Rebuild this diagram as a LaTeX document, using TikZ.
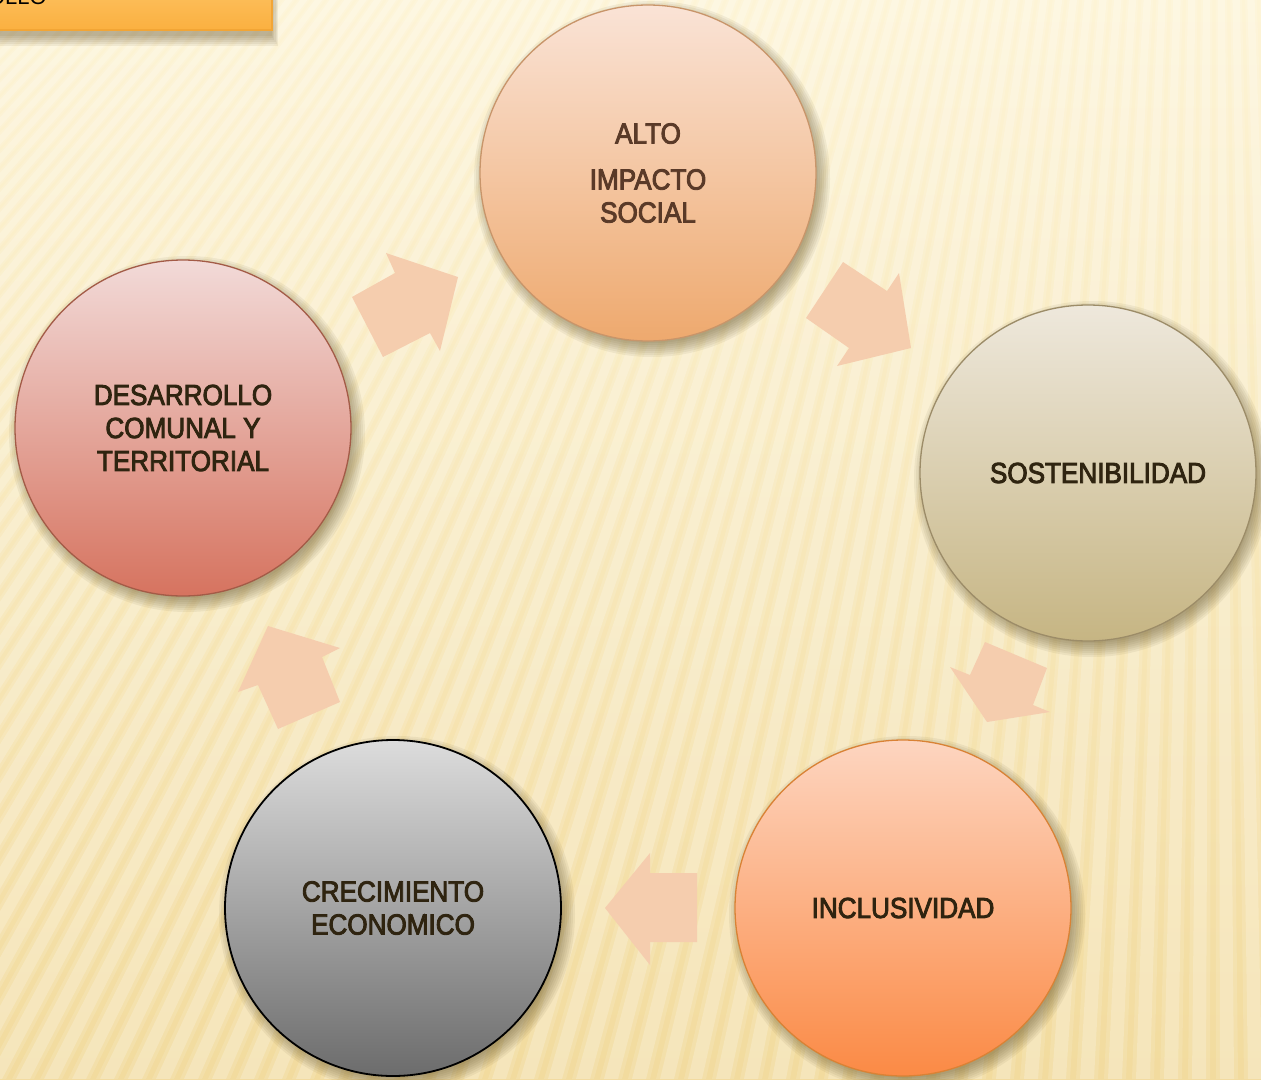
\documentclass[tikz,border=0pt]{standalone}
\usepackage{fontspec}
\newfontfamily\cf[FakeStretch=0.9,FakeBold=3]{Liberation Sans}
\newfontfamily\plainsans{Liberation Sans}
\definecolor{bgtop}{HTML}{FDF4D6}
\definecolor{bgmid}{HTML}{F9EBBA}
\definecolor{bgbot}{HTML}{F2DB9E}
\definecolor{arrowc}{HTML}{F5CDAE}
\definecolor{txtc}{HTML}{2F2410}
\definecolor{altoc}{HTML}{5A3A28}
\definecolor{boxtop}{HTML}{FDCB72}
\definecolor{boxbot}{HTML}{FBB040}
\definecolor{boxedge}{HTML}{F2A535}
\definecolor{shadowc}{HTML}{5A4A20}
\definecolor{c1top}{HTML}{FAE3D6}\definecolor{c1bot}{HTML}{EEA96E}\definecolor{c1edge}{HTML}{C8956A}
\definecolor{c2top}{HTML}{EEE8DC}\definecolor{c2bot}{HTML}{C6B583}\definecolor{c2edge}{HTML}{9C8C68}
\definecolor{c3top}{HTML}{FDD5C0}\definecolor{c3bot}{HTML}{FB8A45}\definecolor{c3edge}{HTML}{D98235}
\definecolor{c4top}{HTML}{DCDCDC}\definecolor{c4bot}{HTML}{6C6C6C}\definecolor{c4edge}{HTML}{000000}
\definecolor{c5top}{HTML}{F2DAD8}\definecolor{c5bot}{HTML}{D6735F}\definecolor{c5edge}{HTML}{A35B47}
\tikzset{
  bubble/.style n args={3}{circle, minimum size=336pt, inner sep=0pt,
    top color=#1, bottom color=#2, draw=#3, line width=1.3pt,
    align=center, text=txtc,
    font=\cf\fontsize{29}{33}\selectfont},
  flowarrow/.style={fill=arrowc},
  softshadow/.style={fill=shadowc, opacity=0.07}
}
\newcommand\circshadow[2]{%
  \foreach \rr in {164,166,...,178} {\fill[softshadow] (#1+4,#2+6) circle[radius=\rr];}}
\begin{document}
\begin{tikzpicture}[x=1pt,y=-1pt]
\useasboundingbox (0,0) rectangle (1261,1079);
% background
\shade[top color=bgtop, middle color=bgmid, bottom color=bgbot] (0,0) rectangle (1261,1079);
\begin{scope}
  \clip (0,0) rectangle (1261,1079);
  \foreach \x in {-1300,-1272,...,1400} {
    \fill[white, opacity=0.2] (1215,-1210) -- (\x,1079) -- ({\x+14},1079) -- cycle;
    \fill[white, opacity=0.12] (1215,-1210) -- ({\x-4},1079) -- ({\x+18},1079) -- cycle;
  }
\end{scope}
% top-left box
\foreach \d in {0,2,...,10} {\fill[softshadow, opacity=0.08] ({-10},{-40}) rectangle ({272+\d*0.6},{36+\d});}
\shade[top color=boxtop, bottom color=boxbot, draw=boxedge, line width=1.5pt]
  (-10,-40) rectangle (272,30);
\node[anchor=base east, inner sep=0pt, font=\plainsans\fontsize{22}{24}\selectfont, text=black] (boxtext) at (47,4) {DESARROLLO};
% arrows
\fill[flowarrow] (352,297) -- (395,273) -- (386,253) -- (458,277) -- (440,351) -- (430,333) -- (383,357) -- cycle;
\fill[flowarrow] (843,262) -- (887,291) -- (899,273) -- (911,348) -- (837,366) -- (849,348) -- (806,318) -- cycle;
\fill[flowarrow] (985,642) -- (1047,668) -- (1033,705) -- (1050,712) -- (987,722) -- (950,667) -- (970,675) -- cycle;
\fill[flowarrow] (605,908) -- (650,853) -- (650,873) -- (697,873) -- (697,942) -- (650,942) -- (650,965) -- cycle;
\fill[flowarrow] (268,626) -- (340,648) -- (322,657) -- (340,702) -- (278,729) -- (258,685) -- (238,692) -- cycle;
% shadows
\circshadow{648}{173}
\circshadow{1088}{473}
\circshadow{903}{908}
\circshadow{393}{908}
\circshadow{183}{428}
% circles
\node[bubble={c1top}{c1bot}{c1edge}, text=altoc] (alto) at (648,173) {ALTO\\[13pt]IMPACTO\\SOCIAL};
\node[bubble={c2top}{c2bot}{c2edge},
  label={[font=\cf\fontsize{29}{33}\selectfont, text=txtc, xshift=10pt]center:SOSTENIBILIDAD}] (sost) at (1088,473) {};
\node[bubble={c3top}{c3bot}{c3edge}] (incl) at (903,908) {INCLUSIVIDAD};
\node[bubble={c4top}{c4bot}{c4edge}, line width=1.8pt] (crec) at (393,908) {CRECIMIENTO\\ECONOMICO};
\node[bubble={c5top}{c5bot}{c5edge}] (desa) at (183,428) {DESARROLLO\\COMUNAL Y\\TERRITORIAL};
\end{tikzpicture}
\end{document}
